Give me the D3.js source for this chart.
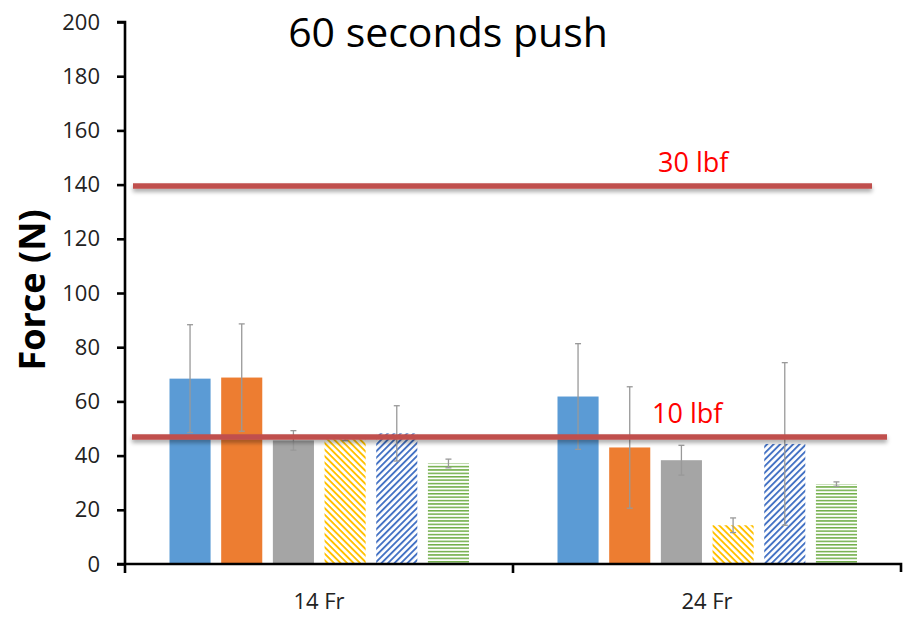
<!DOCTYPE html>
<html>
<head>
<meta charset="utf-8">
<script src="https://cdn.jsdelivr.net/npm/d3@7"></script>
<style>
  html, body { margin: 0; padding: 0; background: #fff; }
  svg { display: block; }
</style>
</head>
<body>
<svg id="chart" width="914" height="620"></svg>
<script>
// ---- data ----
const categories = ["14 Fr", "24 Fr"];
const seriesNames = ["Series 1", "Series 2", "Series 3", "Series 4", "Series 5", "Series 6"];
const values14 = [68.4, 68.8, 45.6, 46.0, 48.2, 37.1];
const values24 = [61.8, 43.0, 38.3, 14.3, 44.3, 29.5];
const errors14 = [19.9, 19.8, 3.6, 0.5, 10.2, 1.6];
const errors24 = [19.5, 22.4, 5.5, 2.7, 30.0, 0.8];
const yTicks = [0, 20, 40, 60, 80, 100, 120, 140, 160, 180, 200];
const refValues = [139.5, 46.9];
const refLabels = ["30 lbf", "10 lbf"];
const titleText = "60 seconds push";
const yLabel = "Force (N)";

// ---- styles ----
const fills = ["#5b9bd5", "#ed7d31", "#a5a5a5", "url(#pYellow)", "url(#pBlue)", "url(#pGreen)"];

const svg = d3.select("#chart");
const mLeft = 125, mRight = 901, mTop = 22, mBottom = 564;

const y = d3.scaleLinear().domain([0, 200]).range([mBottom, mTop]);
const x = d3.scaleBand().domain(categories).range([mLeft, mRight]).paddingInner(0).paddingOuter(0);
const xs = d3.scaleBand().domain(seriesNames).range([44.5, 344]).paddingInner(0.205).paddingOuter(0);

const defs = svg.append("defs");
function stripe(id, color, angle, gap, w) {
  const p = defs.append("pattern").attr("id", id).attr("patternUnits", "userSpaceOnUse")
    .attr("width", gap).attr("height", gap).attr("patternTransform", `rotate(${angle})`);
  p.append("rect").attr("width", gap).attr("height", gap).attr("fill", "#fff");
  p.append("rect").attr("x", 0).attr("y", 0).attr("width", gap).attr("height", w).attr("fill", color);
}
stripe("pYellow", "#ffc000", 45, 4.6, 1.9);
stripe("pBlue", "#4472c4", -45, 4.6, 1.9);
stripe("pGreen", "#70ad47", 0, 3.4, 1.5);

const f = defs.append("filter").attr("id", "shadow").attr("filterUnits", "userSpaceOnUse")
  .attr("x", 0).attr("y", 0).attr("width", 914).attr("height", 620);
f.append("feDropShadow").attr("dx", 0).attr("dy", 3).attr("stdDeviation", 2).attr("flood-color", "#000").attr("flood-opacity", 0.35);

const rows = [values14, values24].map((vals, ci) => vals.map((v, si) => ({
  cat: categories[ci], series: seriesNames[si], value: v,
  err: (ci === 0 ? errors14 : errors24)[si], fill: fills[si]
}))).flat();

// bars
svg.append("g").selectAll("rect").data(rows).join("rect")
  .attr("x", d => x(d.cat) + xs(d.series))
  .attr("y", d => y(d.value))
  .attr("width", xs.bandwidth())
  .attr("height", d => y(0) - y(d.value))
  .attr("fill", d => d.fill);

// error bars
const eg = svg.append("g").attr("stroke", "#999").attr("stroke-width", 1.3);
rows.forEach(d => {
  const cx = x(d.cat) + xs(d.series) + xs.bandwidth() / 2;
  const y1 = y(d.value + d.err), y2 = y(d.value - d.err);
  eg.append("line").attr("x1", cx).attr("x2", cx).attr("y1", y1).attr("y2", y2);
  eg.append("line").attr("x1", cx - 3).attr("x2", cx + 3).attr("y1", y1).attr("y2", y1);
  eg.append("line").attr("x1", cx - 3).attr("x2", cx + 3).attr("y1", y2).attr("y2", y2);
});

// reference lines
const refExt = [[133, 872], [132, 887]];
const refLabelX = [658, 652];
refValues.forEach((v, i) => {
  svg.append("line").attr("x1", refExt[i][0]).attr("x2", refExt[i][1])
    .attr("y1", y(v)).attr("y2", y(v))
    .attr("stroke", "#c0504d").attr("stroke-width", 5.5).attr("filter", "url(#shadow)");
  svg.append("text").attr("x", refLabelX[i]).attr("y", y(v) - 14)
    .attr("font-family", "Open Sans").attr("font-size", 27).attr("fill", "#ff0000")
    .text(refLabels[i]);
});

// y axis
const yAxis = d3.axisLeft(y).tickValues(yTicks).tickSize(8).tickPadding(17);
const yg = svg.append("g").attr("transform", `translate(${mLeft},0)`).call(yAxis);
yg.select(".domain").attr("stroke", "#000").attr("stroke-width", 2.6).attr("d", `M-8,${mTop}H0V${mBottom + 9}`);
yg.selectAll(".tick line").attr("stroke", "#000").attr("stroke-width", 2.6);
yg.selectAll(".tick text").attr("font-family", "Open Sans").attr("font-size", 22).attr("fill", "#222");

// x axis
const xAxis = d3.axisBottom(x).tickValues([]).tickSize(0);
const xg = svg.append("g").attr("transform", `translate(0,${mBottom})`).call(xAxis);
xg.select(".domain").attr("stroke", "#000").attr("stroke-width", 2.6).attr("d", `M${mLeft - 8},0H${mRight}V8`);
const bounds = [x.range()[0], x(categories[1]), x.range()[1]];
xg.selectAll(".xt").data(bounds.slice(1, 2)).join("line")
  .attr("x1", d => d).attr("x2", d => d).attr("y1", 0).attr("y2", 9)
  .attr("stroke", "#000").attr("stroke-width", 2.6);
xg.selectAll(".xl").data(categories).join("text")
  .attr("x", d => x(d) + x.bandwidth() / 2).attr("y", 45)
  .attr("text-anchor", "middle").attr("font-family", "Open Sans").attr("font-size", 22).attr("fill", "#222")
  .text(d => d);

// title
svg.append("text").attr("x", 448).attr("y", 47).attr("text-anchor", "middle")
  .attr("font-family", "Open Sans").attr("font-size", 41).attr("fill", "#000").text(titleText);

// y label
svg.append("text").attr("transform", `translate(45,290) rotate(-90)`).attr("text-anchor", "middle")
  .attr("font-family", "Open Sans").attr("font-weight", "bold").attr("font-size", 36).attr("fill", "#000")
  .text(yLabel);
</script>
</body>
</html>
